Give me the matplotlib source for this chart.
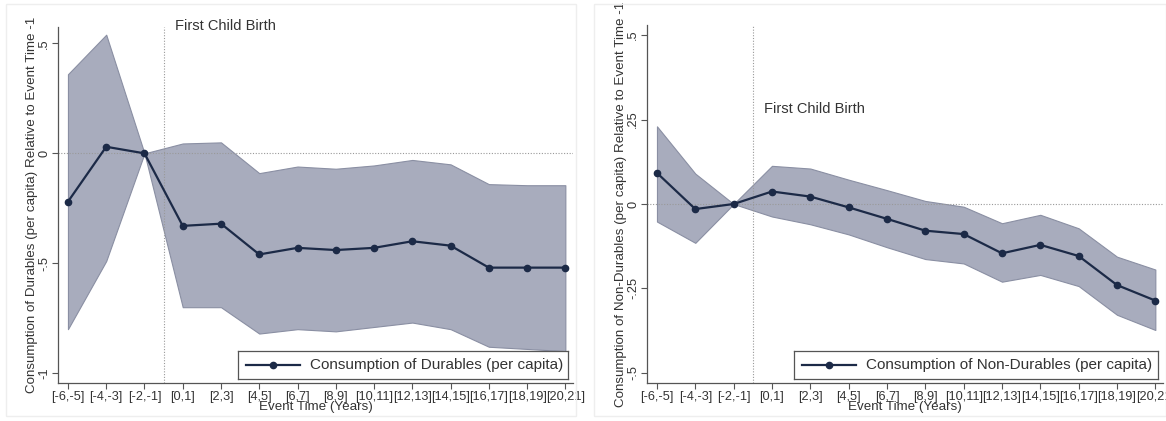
import matplotlib
matplotlib.use("Agg")
import matplotlib.pyplot as plt
import numpy as np
from matplotlib.patches import Rectangle

plt.rcParams['font.family'] = ['Liberation Sans', 'DejaVu Sans']

categories = ["[-6,-5]", "[-4,-3]", "[-2,-1]", "[0,1]", "[2,3]", "[4,5]", "[6,7]",
              "[8,9]", "[10,11]", "[12,13]", "[14,15]", "[16,17]", "[18,19]", "[20,21]"]

dur_est = [-0.22, 0.03, 0.0, -0.33, -0.32, -0.46, -0.43, -0.44, -0.43, -0.40, -0.42, -0.52, -0.52, -0.52]
dur_hi = [0.36, 0.54, 0.0, 0.045, 0.05, -0.09, -0.06, -0.07, -0.055, -0.03, -0.05, -0.14, -0.145, -0.145]
dur_lo = [-0.80, -0.49, 0.0, -0.70, -0.70, -0.82, -0.80, -0.81, -0.79, -0.77, -0.80, -0.88, -0.89, -0.90]

nd_est = [0.092, -0.015, 0.0, 0.037, 0.022, -0.01, -0.044, -0.079, -0.089, -0.146, -0.121, -0.154, -0.24, -0.286]
nd_hi = [0.23, 0.09, 0.0, 0.113, 0.105, 0.072, 0.041, 0.009, -0.008, -0.057, -0.032, -0.072, -0.156, -0.194]
nd_lo = [-0.052, -0.115, 0.0, -0.037, -0.06, -0.09, -0.128, -0.163, -0.176, -0.23, -0.21, -0.243, -0.328, -0.373]

dur_ticks = [0.5, 0.0, -0.5, -1.0]
dur_ticklabels = [".5", "0", "-.5", "-1"]
nd_ticks = [0.5, 0.25, 0.0, -0.25, -0.5]
nd_ticklabels = [".5", ".25", "0", "-.25", "-.5"]

event_x = 2.5
FILL = "#a8acbd"
EDGE = "#8a8fa3"
LINE = "#1c2a47"
TXT = "#333333"

W, H = 1166, 421
fig = plt.figure(figsize=(W / 100, H / 100), dpi=100)

# faint outer graph-region frames
for (x0, x1) in [(6, 576), (594, 1166)]:
    fig.add_artist(Rectangle((x0 / W, 1 - 416 / H), (x1 - x0) / W, (416 - 4) / H,
                             transform=fig.transFigure, fill=False,
                             edgecolor="#eeeeee", linewidth=1.0))


def make_panel(rect, est, lo, hi, ticks, ticklabels, ylim, ylabel, legend_label,
               text_y, legend_rect):
    ax = fig.add_axes(rect)
    x = np.arange(len(categories))
    ax.fill_between(x, lo, hi, color=FILL, edgecolor=EDGE, linewidth=0.8, zorder=1)
    ax.axhline(0, color="#999999", linestyle=(0, (1, 1.5)), linewidth=0.8, zorder=2)
    ax.axvline(event_x, color="#999999", linestyle=(0, (1, 1.5)), linewidth=0.8, zorder=2)
    ax.plot(x, est, color=LINE, linewidth=1.6, marker="o", markersize=4.5,
            zorder=3, label=legend_label)
    ax.set_xlim(-0.26, 13.2)
    ax.set_ylim(*ylim)
    ax.set_xticks(x)
    ax.set_xticklabels(categories, fontsize=9.2, color=TXT)
    ax.set_yticks(ticks)
    ax.set_yticklabels(ticklabels, fontsize=9.2, color=TXT, rotation=90, va="center")
    ax.set_ylabel(ylabel, fontsize=9.6, color=TXT, labelpad=0)
    ax.set_xlabel("Event Time (Years)", fontsize=9.6, color=TXT, labelpad=-1)
    for s in ["top", "right"]:
        ax.spines[s].set_visible(False)
    for s in ["left", "bottom"]:
        ax.spines[s].set_color("#555555")
        ax.spines[s].set_linewidth(0.9)
    ax.tick_params(axis="both", direction="out", length=4, width=0.8, color="#555555", pad=1.5)
    ax.text(event_x + 0.3, text_y, "First Child Birth", fontsize=10.5, color=TXT,
            va="center", ha="left")
    # legend box
    lx0, ly0, lx1, ly1 = legend_rect
    lax = fig.add_axes([lx0 / W, 1 - ly1 / H, (lx1 - lx0) / W, (ly1 - ly0) / H])
    lax.set_xlim(0, 1)
    lax.set_ylim(0, 1)
    lax.set_xticks([])
    lax.set_yticks([])
    for s in lax.spines.values():
        s.set_color("#555555")
        s.set_linewidth(0.9)
    lax.set_facecolor("white")
    px0 = 8 / (lx1 - lx0)
    px1 = 62 / (lx1 - lx0)
    lax.plot([px0, px1], [0.5, 0.5], color=LINE, linewidth=1.6)
    lax.plot([(px0 + px1) / 2], [0.5], color=LINE, marker="o", markersize=4.5)
    lax.text(px1 + 10 / (lx1 - lx0), 0.5, legend_label, fontsize=11, color=TXT,
             va="center", ha="left")
    return ax


make_panel([58 / W, 1 - 383 / H, (573 - 58) / W, (383 - 27) / H],
           dur_est, dur_lo, dur_hi, dur_ticks, dur_ticklabels, (-1.045, 0.575),
           "Consumption of Durables (per capita) Relative to Event Time -1",
           "Consumption of Durables (per capita)", 0.58, (238, 351, 568, 379))

make_panel([647 / W, 1 - 383 / H, (1163 - 647) / W, (383 - 25) / H],
           nd_est, nd_lo, nd_hi, nd_ticks, nd_ticklabels, (-0.53, 0.53),
           "Consumption of Non-Durables (per capita) Relative to Event Time -1",
           "Consumption of Non-Durables (per capita)", 0.28, (794, 351, 1158, 379))

fig.savefig("out.png", dpi=100, facecolor="white")
